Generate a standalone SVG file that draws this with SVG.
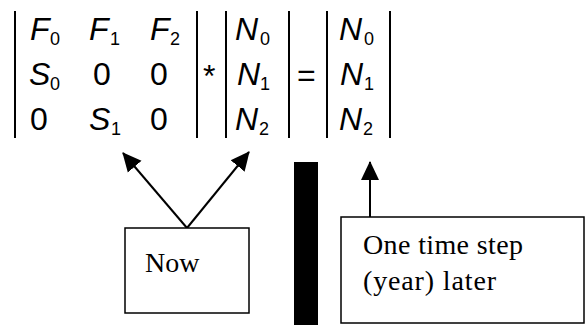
<svg xmlns="http://www.w3.org/2000/svg" width="586" height="325" viewBox="0 0 586 325">
<style>
.v{font-family:"Liberation Sans",Arial,sans-serif;font-style:italic;font-size:32px;fill:#000}
.d{font-family:"Liberation Sans",Arial,sans-serif;font-size:32px;fill:#000}
.s{font-family:"Liberation Sans",Arial,sans-serif;font-size:18px;fill:#000}
.t{font-family:"Liberation Serif","Times New Roman",serif;font-size:28px;fill:#000}
.bar{stroke:#000;stroke-width:2}
.box{fill:#fff;stroke:#000;stroke-width:1.5}
.arr{stroke:#000;stroke-width:2;fill:none;marker-end:url(#ah)}
</style>
<defs>
<marker id="ah" markerUnits="userSpaceOnUse" markerWidth="20" markerHeight="20" viewBox="0 0 20 20" refX="18" refY="10" orient="auto">
<path d="M0,1 L19,10 L0,19 Z" fill="#000"/>
</marker>
</defs>
<g id="matrix">
<line class="bar" x1="15" y1="11" x2="15" y2="138"/>
<line class="bar" x1="197" y1="11" x2="197" y2="138"/>
<text class="v" x="30" y="40">F</text><text class="s" x="50" y="45">0</text>
<text class="v" x="89" y="40">F</text><text class="s" x="110" y="45">1</text>
<text class="v" x="150" y="40">F</text><text class="s" x="170" y="45">2</text>
<text class="v" x="29" y="85">S</text><text class="s" x="50" y="90">0</text>
<text class="d" x="93" y="85">0</text>
<text class="d" x="150" y="85">0</text>
<text class="d" x="30" y="130">0</text>
<text class="v" x="89" y="130">S</text><text class="s" x="111" y="135">1</text>
<text class="d" x="150" y="130">0</text>
</g>
<g id="times"><text class="d" x="203" y="87">*</text></g>
<g id="vecN">
<line class="bar" x1="226" y1="11" x2="226" y2="138"/>
<line class="bar" x1="289" y1="11" x2="289" y2="138"/>
<text class="v" x="235" y="40">N</text><text class="s" x="260" y="45">0</text>
<text class="v" x="237" y="85">N</text><text class="s" x="260" y="90">1</text>
<text class="v" x="235" y="130">N</text><text class="s" x="259" y="135">2</text>
</g>
<g id="equals"><text class="d" x="297" y="86">=</text></g>
<g id="vecN2">
<line class="bar" x1="327" y1="11" x2="327" y2="138"/>
<line class="bar" x1="390" y1="11" x2="390" y2="138"/>
<text class="v" x="339" y="40">N</text><text class="s" x="364" y="45">0</text>
<text class="v" x="340" y="85">N</text><text class="s" x="364" y="90">1</text>
<text class="v" x="339" y="130">N</text><text class="s" x="363" y="135">2</text>
</g>
<g id="divider"><rect x="294" y="162" width="24" height="163" fill="#000"/></g>
<g id="connectors">
<line class="arr" x1="187" y1="228" x2="123" y2="153"/>
<line class="arr" x1="187" y1="228" x2="249" y2="152"/>
<line class="arr" x1="370" y1="217" x2="370" y2="162"/>
</g>
<g id="now">
<rect class="box" x="125" y="228" width="124" height="85"/>
<text class="t" x="145" y="272">Now</text>
</g>
<g id="later">
<rect class="box" x="341" y="217" width="243" height="106"/>
<text class="t" x="363" y="254" textLength="160" lengthAdjust="spacing">One time step</text>
<text class="t" x="363" y="290" textLength="133" lengthAdjust="spacing">(year) later</text>
</g>
</svg>
